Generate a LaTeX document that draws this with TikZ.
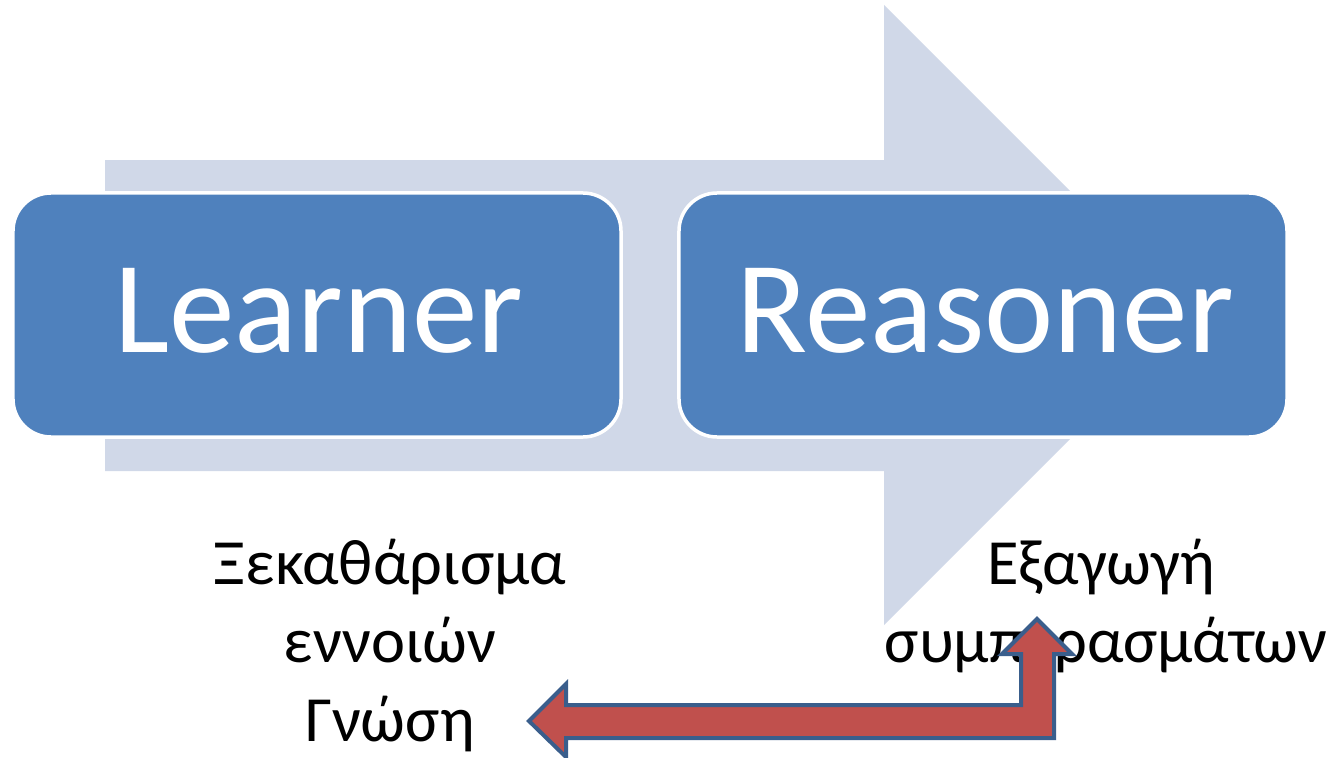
\documentclass[tikz,border=0pt]{standalone}
\usepackage{fontspec}
\setmainfont{Carlito}
\definecolor{flowfill}{HTML}{D0D8E8}
\definecolor{boxfill}{HTML}{4F81BD}
\definecolor{redfill}{HTML}{C0504D}
\definecolor{redline}{HTML}{3A5E8C}
% one drawing unit = 0.03cm
\tikzset{
  stagebox/.style={draw=white, line width=0.105cm, fill=boxfill, rounded corners=1.14cm,
    minimum width=18.24cm, minimum height=7.32cm, inner sep=0pt},
  stagelabel/.style={text=white, font=\fontsize{112}{134}\selectfont, inner sep=0pt, anchor=base},
  notelabel/.style={text=black, font=\fontsize{55}{67}\selectfont, inner sep=0pt, anchor=base},
}
\begin{document}
\begin{tikzpicture}[x=0.03cm, y=-0.03cm]
\useasboundingbox (0,0) rectangle (1333,758);
\fill[white] (0,0) rectangle (1333,758);

% broad process arrow in the background
\fill[flowfill] (105,160) -- (884,160) -- (884,5) -- (1194,315) -- (884,625)
  -- (884,471) -- (105,471) -- cycle;

% the two stages
\node[stagebox] (learner) at (317,315) {};
\node[stagebox] (reasoner) at (983,315) {};
\node[stagelabel] (learnertext) at (319,352) {Learner};
\node[stagelabel] (reasonertext) at (985,352) {Reasoner};

% notes under each stage
\node[notelabel] (l1) at (390,584) {Ξεκαθάρισμα};
\node[notelabel] (l2) at (390,662) {εννοιών};
\node[notelabel] (l3) at (390,741) {Γνώση};
\node[notelabel] (r1) at (1101,584) {Εξαγωγή};
\node[notelabel] (r2) at (1106,662) {συμπερασμάτων};

% bent feedback arrow
\filldraw[fill=redfill, draw=redline, line width=0.12cm, line join=miter]
  (529,721) -- (566,684) -- (566,705) -- (1021,705) -- (1021,654) -- (1002,654)
  -- (1037,619) -- (1072,654) -- (1054,654) -- (1054,738) -- (566,738)
  -- (566,757) -- cycle;
\end{tikzpicture}
\end{document}
